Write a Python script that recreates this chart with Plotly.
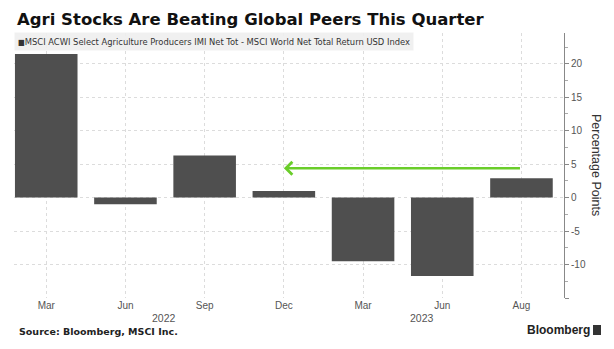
import plotly.graph_objects as go

# ---- data ----
categories = ["Mar 2022", "Jun 2022", "Sep 2022", "Dec 2022", "Mar 2023", "Jun 2023", "Aug 2023"]
tick_labels = ["Mar", "Jun", "Sep", "Dec", "Mar", "Jun", "Aug"]
values = [21.45, -1.0, 6.3, 1.0, -9.5, -11.7, 2.9]
series_name = "MSCI ACWI Select Agriculture Producers IMI Net Tot - MSCI World Net Total Return USD Index"
year_labels = ["2022", "2023"]
year_positions = [1.49, 4.745]
y_tick_vals = [-15, -10, -5, 0, 5, 10, 15, 20]
y_tick_text = ["", "-10", "-5", "0", "5", "10", "15", "20"]
arrow_level = 4.4
arrow_from, arrow_to = 6, 3

W, H = 614, 349
ML, MR, MT, MB = 14, 50, 33, 51
PW, PH = W - ML - MR, H - MT - MB

def px_x(p):
    return (p - ML) / PW

def px_y(p):
    return (H - MB - p) / PH

xs = list(range(len(categories)))

fig = go.Figure()
fig.add_trace(go.Bar(
    x=xs, y=values, name=series_name, width=0.79,
    marker=dict(color="#4f4f4f", line=dict(width=0)),
    hovertext=categories,
))

grid = "#dcdcdc"
fig.update_layout(
    width=W, height=H,
    margin=dict(l=ML, r=MR, t=MT, b=MB),
    paper_bgcolor="white", plot_bgcolor="white",
    showlegend=False,
    font=dict(family="Liberation Sans, Arial, sans-serif", color="#555"),
    xaxis=dict(
        range=[-0.407, 6.537], tickvals=xs, ticktext=tick_labels,
        showgrid=True, gridcolor=grid, griddash="dot", gridwidth=1,
        zeroline=False, showline=False, ticks="",
        tickfont=dict(size=10, color="#555"),
    ),
    yaxis=dict(
        range=[-15, 24.6], side="right", tickvals=y_tick_vals, ticktext=y_tick_text,
        showgrid=True, gridcolor=grid, griddash="dot", gridwidth=1,
        zeroline=False, showline=True, linecolor="#888", linewidth=1,
        ticks="outside", ticklen=4, tickcolor="#888",
        minor=dict(dtick=2.5, tick0=0, ticks="outside", ticklen=3, tickcolor="#aaa", showgrid=False),
        tickfont=dict(size=10, color="#555"),
    ),
)

ann = []
# title
ann.append(dict(text="<b>Agri Stocks Are Beating Global Peers This Quarter</b>",
                xref="paper", yref="paper", x=px_x(15), y=px_y(19), xanchor="left", yanchor="middle",
                showarrow=False, font=dict(family="DejaVu Sans, sans-serif", size=16.5, color="#111")))
# legend box
ann.append(dict(text="<span style='font-size:8px'>■</span>" + series_name,
                xref="paper", yref="paper", x=0, y=px_y(41.5), xanchor="left", yanchor="middle",
                showarrow=False, bgcolor="rgba(238,238,238,0.9)", borderpad=3,
                font=dict(family="Liberation Sans Narrow, DejaVu Sans Condensed, Liberation Sans, sans-serif", size=9.3, color="#333")))
# axis title
ann.append(dict(text="Percentage Points", xref="paper", yref="paper",
                x=px_x(596), y=px_y(165), xanchor="center", yanchor="middle", textangle=90,
                showarrow=False, font=dict(size=12.5, color="#333")))
# years
for lab, pos in zip(year_labels, year_positions):
    ann.append(dict(text=lab, xref="x", yref="paper", x=pos, y=px_y(317.5), xanchor="center", yanchor="middle",
                    showarrow=False, font=dict(size=10.5, color="#555")))
# arrow
ann.append(dict(text="", x=arrow_to, y=arrow_level, ax=arrow_from, ay=arrow_level,
                xref="x", yref="y", axref="x", ayref="y", showarrow=True,
                arrowhead=4, arrowsize=1, arrowwidth=2.5, arrowcolor="#6acd2a", standoff=0))
# source
ann.append(dict(text="<b>Source: Bloomberg, MSCI Inc.</b>", xref="paper", yref="paper",
                x=px_x(17), y=px_y(331), xanchor="left", yanchor="middle", showarrow=False,
                font=dict(family="DejaVu Sans, sans-serif", size=9.5, color="#222")))
ann.append(dict(text="<b>Bloomberg</b>", xref="paper", yref="paper",
                x=px_x(592), y=px_y(330), xanchor="right", yanchor="middle", showarrow=False,
                font=dict(family="Liberation Sans, Arial, sans-serif", size=12, color="#222")))
fig.update_layout(annotations=ann)

# Bloomberg logo block
fig.add_shape(type="rect", xref="paper", yref="paper",
              x0=px_x(593), x1=px_x(601), y0=px_y(335), y1=px_y(325),
              fillcolor="#333", line=dict(width=0))

fig.write_html("out.html")
